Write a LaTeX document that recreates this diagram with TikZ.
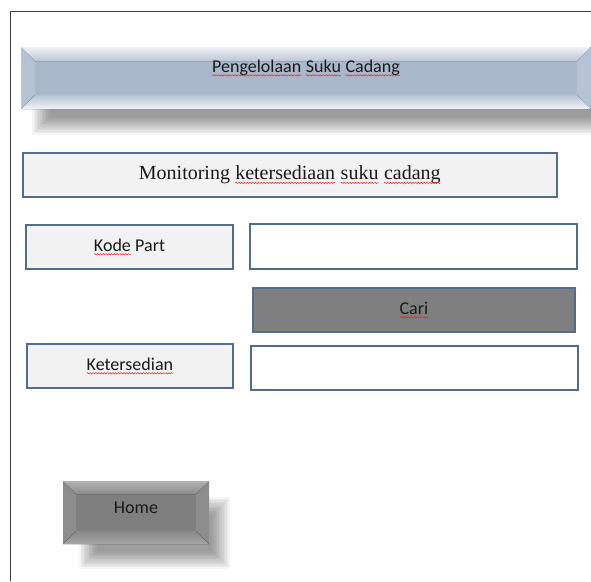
\documentclass[tikz,border=0pt]{standalone}
\usepackage{fontspec}
\setmainfont{Carlito}
\newfontfamily\timesfont{Liberation Serif}
\usetikzlibrary{positioning, decorations.pathmorphing}

\definecolor{garisbiru}{RGB}{82,108,138}
\definecolor{isikotak}{RGB}{242,242,242}
\definecolor{isicari}{RGB}{127,127,127}
\definecolor{bannerface}{RGB}{170,184,203}
\definecolor{bannersisi}{RGB}{182,195,213}
\definecolor{bannerterang}{RGB}{240,244,250}
\definecolor{homesisi}{RGB}{141,141,141}
\definecolor{merahejaan}{RGB}{228,40,40}

% wavy spelling line under one word
\newcommand{\ejaan}[1]{\tikz[baseline=(w.base)]{\node[inner sep=0pt,outer sep=0pt,font={},
    minimum width=0pt,minimum height=0pt,draw=none,fill=none,anchor=center] (w) {#1};
  \draw[merahejaan,line width=0.5pt,decorate,decoration={snake,amplitude=0.7pt,segment length=2.8pt}]
    ([yshift=-3.2pt]w.base west) -- ([yshift=-3.2pt]w.base east);}}

% bevel round a node: node, size, top outer, top inner, bottom inner, bottom outer, sides
\newcommand{\bevel}[7]{%
  \coordinate (#1-a) at ([shift={(#2,-#2)}]#1.north west);
  \coordinate (#1-b) at ([shift={(-#2,-#2)}]#1.north east);
  \coordinate (#1-c) at ([shift={(-#2,#2)}]#1.south east);
  \coordinate (#1-d) at ([shift={(#2,#2)}]#1.south west);
  \fill[#7] (#1.north west) -- (#1-a) -- (#1-d) -- (#1.south west) -- cycle;
  \fill[#7] (#1.north east) -- (#1-b) -- (#1-c) -- (#1.south east) -- cycle;
  \fill[top color=#3, bottom color=#4] (#1.north west) -- (#1.north east) -- (#1-b) -- (#1-a) -- cycle;
  \fill[top color=#5, bottom color=#6] (#1.south west) -- (#1.south east) -- (#1-c) -- (#1-d) -- cycle;
}

% soft shadow: x1, y1, x2, y2
\newcommand{\bayangan}[4]{%
  \foreach \k in {0,...,11}{\fill[black,opacity=0.04] ({#1+1.6*\k},{#2+1.6*\k}) rectangle ({#3-1.6*\k},{#4-1.6*\k});}}

\begin{document}
\begin{tikzpicture}[x=1pt,y=-1pt,
  every node/.style={font=\fontsize{18}{22}\selectfont, text=black!90},
  kotak/.style={draw=garisbiru, line width=1.8pt, fill=isikotak, anchor=north west, inner sep=0pt},
  isian/.style={kotak, fill=white},
  tombol/.style={kotak, fill=isicari},
  timbul/.style={anchor=north west, inner sep=0pt, outer sep=0pt}]
\useasboundingbox (0,0) rectangle (591,581);

% bingkai
\draw[black!75, line width=0.9pt] (10.5,581) |- (591,11.5);

% bayangan
\bayangan{32}{80}{612}{135}
\bayangan{79}{497}{230}{569}

% judul
\node[timbul, fill=bannerface, minimum width=570pt, minimum height=62pt] (judul) at (21,47) {};
\bevel{judul}{14pt}{bannerterang}{bannerface!80!white}{bannerface!85!white}{bannerterang}{bannersisi}
\node (judulteks) at ([yshift=10pt]judul.center) {\ejaan{Pengelolaan} \ejaan{Suku} \ejaan{Cadang}};

\node[kotak, minimum width=534pt, minimum height=44pt, font=\timesfont\fontsize{20}{24}\selectfont]
  (monitor) at (22,152) {Monitoring \ejaan{ketersediaan} \ejaan{suku} \ejaan{cadang}};

% baris kode part
\node[kotak, minimum width=207pt, minimum height=44pt] (kode) at (25,224) {\ejaan{Kode} Part};
\node[isian, minimum width=327pt, minimum height=45pt] (kodeisi) at (249,223) {};

\node[tombol, minimum width=322pt, minimum height=44pt] (cari) at (252,287) {\ejaan{Cari}};

% baris ketersediaan
\node[kotak, minimum width=206pt, minimum height=44pt] (sedia) at (26,343) {\ejaan{Ketersedian}};
\node[isian, minimum width=327pt, minimum height=44pt] (sediaisi) at (250,345) {};

% tombol home
\node[timbul, fill=isicari, minimum width=146pt, minimum height=63pt] (home) at (63,481) {};
\bevel{home}{13pt}{black!30}{black!45}{black!47}{black!35}{homesisi}
\node (hometeks) at ([yshift=5pt]home.center) {Home};
\end{tikzpicture}
\end{document}
